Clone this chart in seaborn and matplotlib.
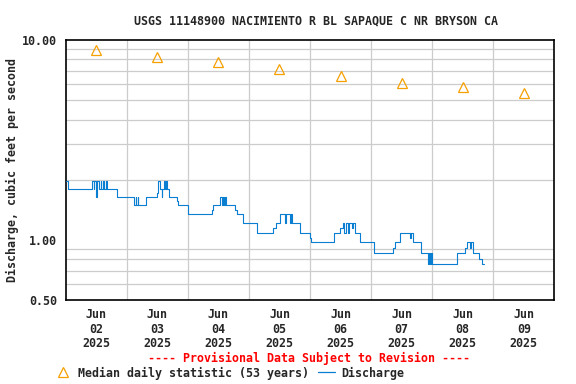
import numpy as np
import pandas as pd
import seaborn as sns
import matplotlib.pyplot as plt
import matplotlib.ticker as mticker
from matplotlib.lines import Line2D

# hours since Jun 02 2025 00:00 (step start) and discharge (cfs)
q_hours = [0.0, 0.75, 10.5, 11.0, 11.25, 12.0, 12.25, 12.5, 13.0, 13.75, 14.0, 14.75,
           15.25, 15.75, 16.25, 20.0, 26.75, 27.5, 27.75, 28.25, 28.5, 31.5, 35.75, 36.25,
           37.25, 37.75, 38.0, 38.5, 39.0, 39.5, 39.75, 40.5, 43.75, 44.0, 48.0, 57.5,
           58.0, 60.75, 61.25, 61.75, 62.25, 62.5, 63.0, 66.5, 67.5, 69.5, 75.25, 81.5,
           82.5, 84.25, 86.25, 86.75, 88.25, 88.5, 88.75, 92.0, 96.0, 96.5, 105.5, 107.75,
           109.0, 109.5, 110.25, 111.0, 111.25, 112.5, 113.0, 113.5, 115.75, 121.25, 128.75,
           129.5, 131.5, 135.25, 135.75, 136.5, 139.5, 142.5, 142.75, 143.0, 143.5, 143.75,
           153.75, 157.0, 157.5, 158.75, 159.25, 160.0, 162.25, 163.5, 164.5]
q_vals = [1.96, 1.79, 1.96, 1.79, 1.96, 1.64, 1.79, 1.96, 1.79, 1.96, 1.79, 1.96,
          1.79, 1.96, 1.79, 1.64, 1.50, 1.64, 1.50, 1.64, 1.50, 1.64, 1.72, 1.96,
          1.79, 1.64, 1.79, 1.96, 1.79, 1.96, 1.79, 1.64, 1.57, 1.50, 1.35, 1.41,
          1.50, 1.64, 1.50, 1.64, 1.50, 1.64, 1.50, 1.41, 1.35, 1.21, 1.08, 1.14,
          1.21, 1.35, 1.21, 1.35, 1.21, 1.35, 1.21, 1.08, 1.02, 0.97, 1.08, 1.14,
          1.21, 1.08, 1.21, 1.08, 1.21, 1.14, 1.21, 1.08, 0.97, 0.86, 0.91,
          0.97, 1.08, 1.02, 1.08, 0.97, 0.86, 0.76, 0.86, 0.76, 0.86, 0.76,
          0.86, 0.91, 0.97, 0.91, 0.97, 0.86, 0.80, 0.76, 0.76]

# median daily statistic, plotted at noon of each day
med_hours = [12, 36, 60, 84, 108, 132, 156, 180]
med_vals = [8.9, 8.2, 7.75, 7.15, 6.6, 6.1, 5.8, 5.4]

day_labels = ["Jun\n02\n2025", "Jun\n03\n2025", "Jun\n04\n2025", "Jun\n05\n2025",
              "Jun\n06\n2025", "Jun\n07\n2025", "Jun\n08\n2025", "Jun\n09\n2025"]

sns.set_style("white")
plt.rcParams['font.family'] = ['DejaVu Sans Mono']
plt.rcParams['font.weight'] = 'bold'
fs = 8.4

dis = pd.DataFrame({"hours": q_hours, "cfs": q_vals})
med = pd.DataFrame({"hours": med_hours, "cfs": med_vals})

fig = plt.figure(figsize=(5.76, 3.84), dpi=100)
ax = fig.add_axes([65.6/576, 1-300/384, (554.4-65.6)/576, 260/384])

blue = "#0a7ed0"
orange = "#f5a000"
sns.lineplot(data=dis, x="hours", y="cfs", ax=ax, color=blue, linewidth=0.8,
             drawstyle="steps-post", errorbar=None, zorder=3)
sns.lineplot(data=med, x="hours", y="cfs", ax=ax, linestyle="none", marker="^",
             markersize=7.5, markerfacecolor="none", markeredgecolor=orange,
             markeredgewidth=0.9, errorbar=None, zorder=4)

ax.set_yscale("log")
ax.set_ylim(0.5, 10)
ax.set_xlim(0, 192)
ax.yaxis.set_major_locator(mticker.FixedLocator([0.5, 1, 10]))
ax.yaxis.set_major_formatter(mticker.FixedFormatter(["0.50", "1.00", "10.00"]))
ax.yaxis.set_minor_locator(mticker.FixedLocator([0.6, 0.7, 0.8, 0.9, 1, 2, 3, 4, 5, 6, 7, 8, 9]))
ax.yaxis.set_minor_formatter(mticker.NullFormatter())
ax.xaxis.set_major_locator(mticker.FixedLocator(med_hours))
ax.xaxis.set_major_formatter(mticker.FixedFormatter(day_labels))
ax.xaxis.set_minor_locator(mticker.FixedLocator(np.arange(24, 192, 24)))
ax.grid(False)
ax.grid(which="minor", color="#cccccc", linewidth=0.9)
ax.tick_params(which="both", length=0)
ax.tick_params(axis="x", labelsize=fs, pad=6)
ax.tick_params(axis="y", labelsize=fs, pad=6)
for lab in ax.get_xticklabels():
    lab.set_linespacing(1.12)
    lab.set_fontweight("bold")
for lab in ax.get_yticklabels():
    lab.set_fontweight("bold")
for sp in ax.spines.values():
    sp.set_color("black")
    sp.set_linewidth(1.2)
ax.set_xlabel("")
ax.set_ylabel("")

fig.text(12/576, 1-170/384, "Discharge, cubic feet per second", rotation=90,
         ha="center", va="center", fontsize=fs, fontweight="bold")
fig.text(316/576, 1-21/384, "USGS 11148900 NACIMIENTO R BL SAPAQUE C NR BRYSON CA",
         ha="center", va="center", fontsize=fs, fontweight="bold")
fig.text(309/576, 1-358/384, "---- Provisional Data Subject to Revision ----",
         ha="center", va="center", fontsize=fs, fontweight="bold", color="red")

handles = [Line2D([], [], linestyle="none", marker="^", markersize=7.5,
                  markerfacecolor="none", markeredgecolor=orange, markeredgewidth=0.9),
           Line2D([], [], color=blue, linewidth=0.9)]
fig.legend(handles, ["Median daily statistic (53 years)", "Discharge"], ncol=2,
           loc="center left", bbox_to_anchor=(54.5/576, 1-373/384), frameon=False,
           fontsize=fs, handlelength=1.5, handletextpad=0.55, columnspacing=0.7,
           borderpad=0, borderaxespad=0)

fig.savefig("out.png", dpi=100)
